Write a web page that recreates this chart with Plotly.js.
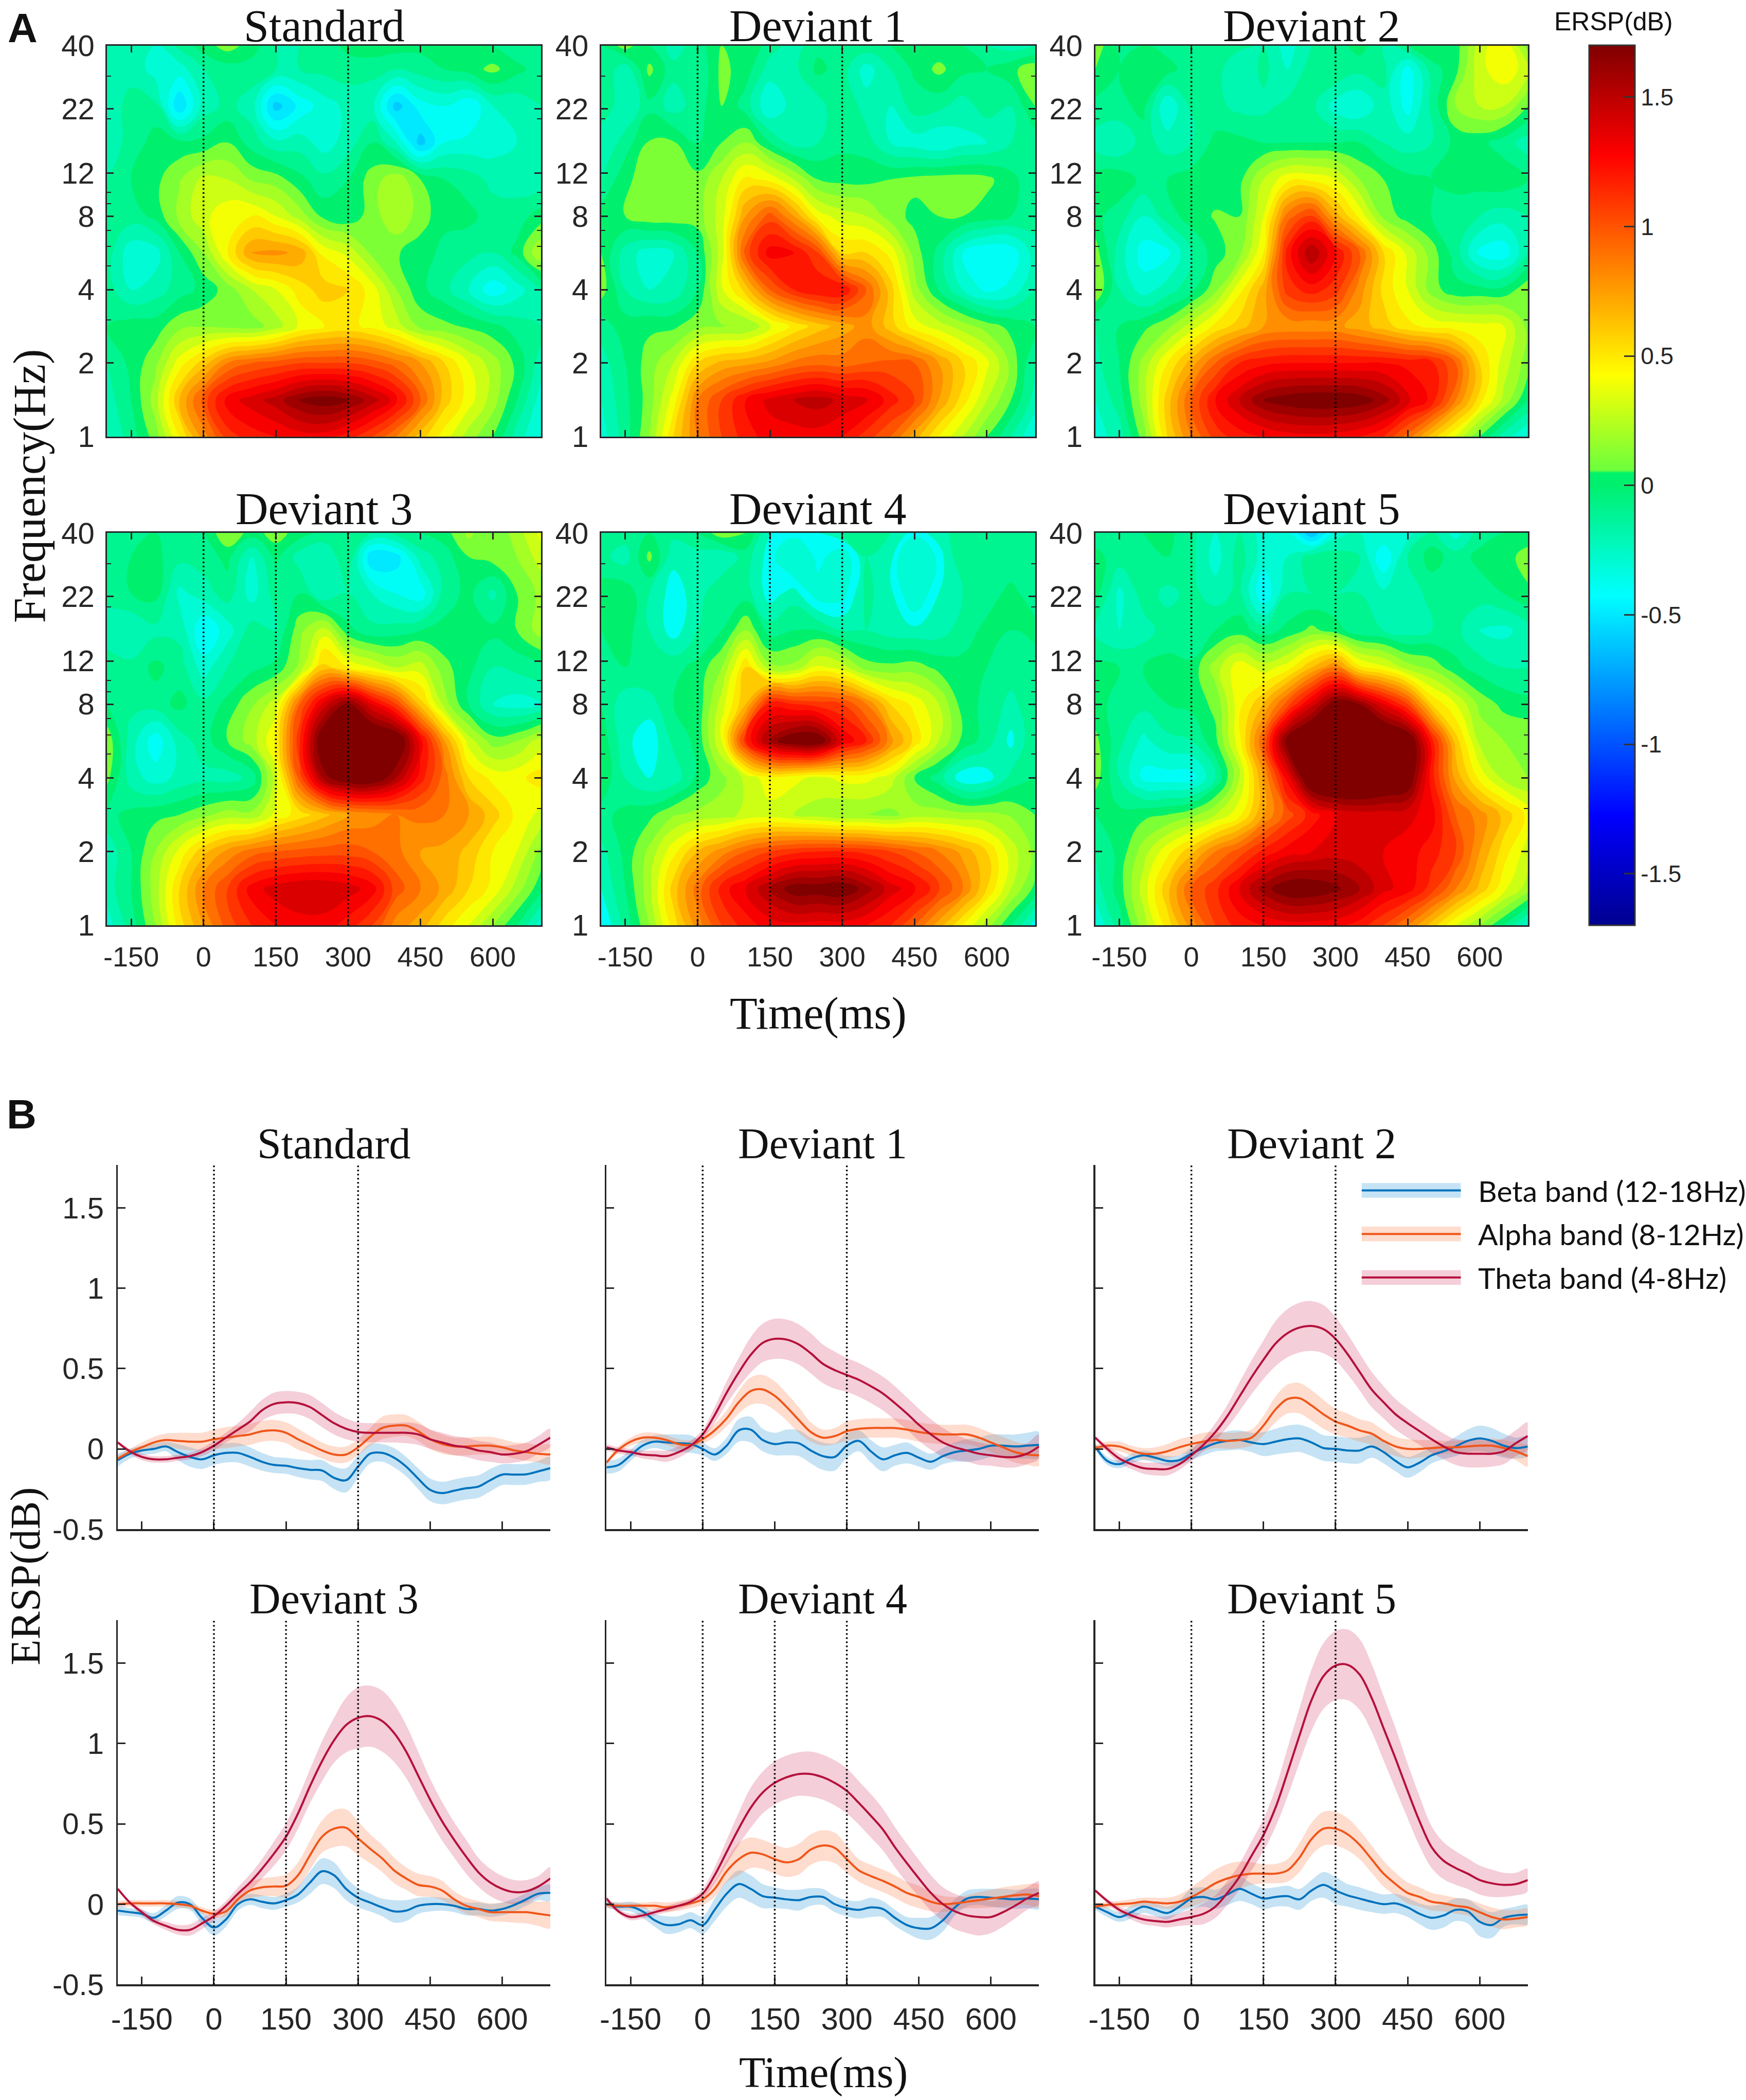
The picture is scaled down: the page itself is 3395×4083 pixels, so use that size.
<!DOCTYPE html>
<html>
<head>
<meta charset="utf-8">
<script src="https://cdn.plot.ly/plotly-3.0.1.min.js"></script>
<style>html,body{margin:0;padding:0;background:#fff}</style>
</head>
<body>
<div id="chart"></div>
<script>
// time-frequency grid, rows run from low to high frequency
const tfTimes = [-200,-150,-100,-50,0,50,100,150,200,250,300,350,400,450,500,550,600,650,700];
const tfFreqs = [1,1.41,2,2.83,4,5.66,8,11.3,16,22.6,32,40];

const ersp_standard = [
[-.25,-.1,.1,.45,.8,1.1,1.2,1.25,1.3,1.3,1.2,1.05,.85,.6,.4,.2,.05,-.2,-.35],
[-.2,-.05,.2,.65,1.0,1.3,1.4,1.5,1.65,1.72,1.65,1.5,1.3,.95,.6,.4,.2,-.05,-.3],
[-.15,-.02,.12,.4,.6,.85,.95,1.0,1.05,1.05,1.05,1.0,.9,.75,.55,.35,.2,.02,-.2],
[-.05,0,0,.12,.14,.12,.1,.2,.37,.45,.48,.42,.3,.12,.08,.03,-.02,-.1,-.15],
[-.1,-.25,-.2,-.1,-.02,.1,.25,.35,.5,.6,.55,.4,.15,-.02,-.12,-.25,-.42,-.3,-.15],
[-.1,-.32,-.3,-.05,.15,.45,.75,.78,.72,.42,.32,.12,.06,0,-.08,-.12,-.15,-.02,.25],
[-.1,-.1,-.02,.18,.32,.42,.45,.35,.2,.02,-.02,.1,.24,.1,-.02,-.02,-.1,-.1,0],
[-.15,-.05,.02,.14,.28,.25,.14,.1,-.02,-.12,-.05,.1,.22,.05,-.05,-.1,-.18,-.2,-.22],
[-.2,-.12,0,-.02,-.02,.05,-.1,-.22,-.2,-.3,-.2,-.05,-.25,-.6,-.35,-.32,-.3,-.25,-.2],
[-.2,-.12,-.12,-.55,-.2,-.12,-.2,-.6,-.42,-.3,-.22,-.22,-.6,-.4,-.35,-.45,-.25,-.22,-.15],
[-.15,-.18,-.3,-.3,-.15,-.1,-.1,-.15,-.15,-.12,-.1,-.12,-.15,-.1,-.05,0,.08,-.02,-.1],
[-.15,-.15,-.25,-.12,0,.1,0,-.15,-.15,-.1,-.02,.02,0,-.02,0,-.02,-.05,-.12,-.15]
];
const ersp_deviant1 = [
[-.3,-.1,.15,.55,.85,1.05,1.2,1.3,1.3,1.3,1.25,1.1,.95,.7,.45,.25,.05,-.15,-.35],
[-.25,-.08,.1,.4,.85,1.05,1.25,1.38,1.45,1.5,1.42,1.38,1.2,1.05,.75,.5,.25,.05,-.2],
[-.2,-.05,.1,.25,.55,.68,.72,.78,.88,.92,.9,.95,.98,.95,.75,.55,.38,.12,-.15],
[-.1,0,.03,.03,.12,.14,.15,.33,.48,.6,.7,.8,.6,.4,.3,.2,.1,.02,-.05],
[.1,-.15,-.25,-.22,-.05,.33,.6,.95,1.15,1.25,1.25,.95,.6,.2,-.05,-.25,-.38,-.32,-.15],
[.05,-.2,-.3,-.25,-.05,.3,1.0,1.3,1.25,1.05,.55,.55,.42,.1,-.08,-.35,-.45,-.42,-.2],
[0,.05,.12,.12,.1,.3,.75,1.0,.75,.4,.3,.25,.1,.02,.05,.05,0,-.05,-.1],
[-.15,.02,.12,.12,.08,.25,.48,.42,.25,.05,.02,.02,.05,.08,.1,.1,.08,-.02,-.12],
[-.25,-.1,.06,.06,-.05,.05,.15,-.05,-.2,-.15,-.08,-.1,-.25,-.3,-.35,-.28,-.25,-.15,-.1],
[-.05,-.25,-.08,-.2,-.1,.05,-.1,-.35,-.2,-.2,-.05,-.2,-.25,-.1,-.12,-.2,-.1,-.15,.05],
[-.05,-.22,.08,-.12,-.15,.08,0,-.2,-.18,-.02,-.1,-.3,-.15,-.03,.08,-.02,-.05,.02,.12],
[-.05,.1,-.05,-.2,-.1,.05,.05,-.1,-.2,-.08,-.1,-.08,-.05,0,-.02,-.05,-.15,-.2,-.15]
];
const ersp_deviant2 = [
[-.3,-.2,.1,.55,.85,1.1,1.2,1.25,1.3,1.32,1.3,1.25,1.15,.9,.6,.35,.05,-.2,-.35],
[-.25,-.1,.2,.6,.95,1.25,1.45,1.65,1.72,1.75,1.75,1.72,1.6,1.38,1.22,.85,.5,.22,-.05],
[-.18,-.05,.18,.45,.7,.95,1.15,1.22,1.25,1.25,1.25,1.25,1.25,1.22,1.18,.95,.55,.3,.1],
[-.15,-.05,.02,.12,.3,.48,.6,.75,.78,.78,.78,.7,.6,.48,.42,.4,.38,.35,.12],
[.15,-.15,-.3,-.2,-.08,.12,.42,.7,1.1,1.2,1.1,.8,.52,.35,.1,-.02,-.02,-.02,.12],
[.1,-.2,-.4,-.38,-.15,0,.12,.45,1.2,1.55,1.25,.95,.55,.32,.1,-.1,-.38,-.42,-.15],
[-.02,-.1,-.25,-.1,0,.06,.05,.35,.9,1.08,.7,.42,.12,0,-.05,-.08,-.15,-.2,-.15],
[0,.02,-.08,-.05,0,0,.02,.25,.42,.42,.35,.15,.05,-.02,-.05,-.03,0,.02,-.05],
[-.2,-.25,-.1,-.2,-.15,-.02,-.02,-.05,-.05,-.05,-.05,-.05,-.15,-.2,-.15,-.02,-.02,-.1,-.2],
[-.08,-.08,-.02,-.35,-.12,-.12,-.18,-.18,-.12,-.12,-.3,-.35,-.18,-.4,-.12,.15,.25,.25,.05],
[.05,-.05,.05,0,-.12,-.1,-.25,-.12,-.25,-.1,-.05,-.12,-.12,-.4,-.1,.02,.32,.42,.3],
[.12,-.08,-.05,-.1,-.15,-.1,-.12,-.15,-.3,-.15,-.1,0,-.15,-.05,.05,0,.3,.45,.1]
];
const ersp_deviant3 = [
[-.3,-.1,.15,.5,.75,1.0,1.15,1.25,1.3,1.3,1.2,1.05,.8,.7,.5,.35,.15,-.05,-.3],
[-.2,-.05,.2,.55,.85,1.05,1.3,1.4,1.45,1.45,1.4,1.3,1.0,.85,.72,.55,.42,.2,-.02],
[-.22,-.05,.15,.38,.62,.78,.9,.95,.98,1.0,1.0,.95,.88,.75,.72,.62,.45,.35,.12],
[-.08,-.02,.02,.05,.12,.2,.18,.38,.5,.62,.75,.8,.85,.88,.85,.75,.6,.42,.32],
[.08,-.2,-.3,-.22,-.18,-.2,-.12,.3,1.0,1.6,1.8,1.8,1.55,1.2,.9,.55,.42,.42,.5],
[.12,-.2,-.42,-.2,-.1,.05,.2,.45,1.15,1.85,1.95,1.95,1.85,1.3,.75,.3,.1,.15,.3],
[-.05,-.12,-.1,-.02,-.12,-.02,.14,.3,.95,1.4,1.7,1.35,1.05,.6,.2,-.05,-.25,-.3,-.25],
[-.1,-.12,-.02,-.1,-.3,-.15,-.08,-.02,.18,.6,.45,.35,.25,.3,.08,-.02,-.15,-.12,-.08],
[-.2,-.25,-.18,-.18,-.45,-.3,-.1,-.15,.12,.3,-.02,-.12,-.1,-.05,-.02,-.02,-.02,.05,.2],
[-.12,-.05,-.02,-.28,-.2,-.1,-.3,-.1,-.05,-.25,-.15,-.25,-.35,-.42,-.1,-.02,-.18,.05,.18],
[-.1,-.05,-.02,-.12,-.1,-.02,-.25,-.02,-.2,-.25,-.05,-.55,-.5,-.2,-.1,.05,.1,.15,.3],
[-.15,-.08,-.05,-.08,-.05,.15,0,.1,0,-.08,-.05,-.15,-.1,-.05,0,.18,.05,.2,.38]
];
const ersp_deviant4 = [
[-.35,-.12,.15,.5,.8,1.05,1.2,1.3,1.32,1.3,1.3,1.25,1.15,.95,.7,.45,.2,-.05,-.3],
[-.25,-.05,.22,.6,.9,1.2,1.35,1.55,1.72,1.72,1.75,1.6,1.4,1.28,1.08,.85,.55,.25,.02],
[-.18,-.02,.18,.42,.65,.8,.95,1.05,1.12,1.15,1.15,1.12,1.05,.95,.85,.72,.55,.3,.12],
[-.08,-.02,.02,.14,.18,.2,.28,.3,.25,.2,.15,.15,.12,.2,.2,.18,.18,.14,.05],
[.02,-.15,-.25,-.22,-.02,.12,.28,.42,.38,.32,.38,.38,.3,.05,-.1,-.32,-.3,-.12,-.05],
[.02,-.22,-.32,-.12,-.02,.35,1.15,1.6,1.78,1.78,1.35,1.15,.8,.52,.25,.02,-.1,-.28,-.05],
[-.05,-.22,-.2,-.05,-.02,.3,.65,1.2,1.15,1.1,1.05,.85,.55,.42,.25,0,-.08,-.18,-.08],
[-.1,-.05,-.05,-.08,-.02,.15,.55,.18,.18,.38,.3,.1,.08,.1,.02,-.02,-.05,-.1,-.1],
[-.05,0,-.15,-.3,-.15,-.05,.15,-.1,-.05,-.05,-.15,-.15,-.2,-.22,-.2,-.1,-.02,-.05,-.02],
[0,.02,-.15,-.3,-.2,-.05,-.1,-.3,-.2,-.42,-.4,-.12,-.22,-.48,-.25,-.15,-.1,-.02,-.1],
[-.12,-.2,.08,-.22,-.2,-.25,-.1,-.3,-.55,-.3,-.45,-.15,-.2,-.65,-.3,-.05,-.05,-.12,-.1],
[-.15,-.1,-.05,-.12,-.05,.12,.05,-.25,-.3,-.25,-.15,-.1,-.15,-.3,-.2,-.08,-.05,-.05,-.05]
];
const ersp_deviant5 = [
[-.35,-.1,.2,.5,.8,1.05,1.2,1.25,1.3,1.3,1.28,1.2,1.05,.85,.6,.35,.15,-.05,-.3],
[-.2,0,.3,.62,.95,1.12,1.35,1.6,1.75,1.75,1.68,1.55,1.38,1.3,1.1,.85,.62,.38,.2],
[-.15,-.02,.2,.42,.62,.85,1.0,1.18,1.3,1.35,1.4,1.38,1.35,1.3,1.2,1.05,.75,.5,.3],
[-.05,-.02,.02,.05,.12,.25,.42,.75,1.0,1.2,1.35,1.4,1.4,1.38,1.3,.95,.8,.62,.42],
[.1,-.15,-.38,-.4,-.4,-.15,.25,.75,1.3,1.9,2.0,2.0,1.9,1.8,1.2,.72,.42,.22,.15],
[.08,-.12,-.28,-.18,-.15,.02,.42,.95,1.75,2.0,2.1,2.1,2.0,1.85,1.2,.6,.22,.15,.15],
[-.02,-.08,-.12,-.05,-.02,.08,.42,.65,1.0,1.4,1.75,1.65,1.35,1.05,.55,.35,.12,.02,-.02],
[-.02,-.05,-.05,-.02,-.02,.2,.42,.3,.4,.65,.85,.48,.38,.2,.12,-.02,-.1,-.15,-.15],
[-.18,-.25,-.2,-.1,-.15,-.05,0,-.1,-.02,.08,0,-.12,-.15,-.2,-.15,-.12,-.25,-.28,-.2],
[0,-.28,-.1,-.18,-.12,-.2,-.12,-.45,-.15,-.15,-.15,-.15,-.22,-.2,-.12,-.05,-.1,-.05,.02],
[-.02,-.1,-.12,-.05,-.12,-.3,-.1,-.3,-.25,-.1,-.1,-.15,-.45,-.15,0,-.1,-.02,-.02,.12],
[-.1,-.12,-.05,-.02,-.12,-.25,-.15,-.3,-.3,-.65,-.3,-.25,-.25,-.3,-.12,-.3,-.1,-.05,-.05]
];

// band power curves, one value every 25 ms from -200 to 700
const bandTimes = [-200,-175,-150,-125,-100,-75,-50,-25,0,25,50,75,100,125,150,175,200,225,250,275,300,325,350,375,400,425,450,475,500,525,550,575,600,625,650,675,700];

const beta_standard = [-.07,-.03,-.01,0,.015,-.02,-.05,-.065,-.04,-.025,-.025,-.05,-.08,-.1,-.105,-.12,-.13,-.135,-.18,-.195,-.11,-.03,-.025,-.055,-.11,-.185,-.255,-.275,-.26,-.245,-.235,-.195,-.16,-.16,-.158,-.14,-.12];
const beta_standard_sem = [.04,.03,.03,.03,.03,.05,.06,.06,.06,.06,.06,.06,.055,.05,.05,.055,.06,.065,.07,.075,.07,.06,.055,.06,.06,.065,.07,.07,.07,.07,.07,.07,.065,.065,.065,.065,.07];
const alpha_standard = [-.06,-.02,.01,.04,.055,.05,.045,.045,.06,.07,.08,.09,.11,.115,.1,.06,.025,-.01,-.035,-.035,.01,.075,.13,.145,.145,.11,.06,.03,.015,.015,.02,.02,.01,-.01,-.02,-.03,-.035];
const alpha_standard_sem = [.02,.02,.03,.035,.04,.05,.055,.055,.06,.065,.065,.065,.065,.065,.065,.065,.055,.05,.05,.05,.05,.055,.07,.07,.065,.06,.06,.06,.055,.055,.055,.055,.05,.05,.055,.055,.06];
const theta_standard = [.04,-.015,-.05,-.065,-.065,-.055,-.045,-.02,.02,.07,.12,.17,.24,.28,.29,.285,.26,.21,.16,.125,.105,.1,.1,.1,.1,.09,.06,.04,.02,.01,-.01,-.02,-.035,-.03,-.015,.025,.07];
const theta_standard_sem = [.01,.015,.02,.02,.02,.02,.02,.025,.03,.03,.04,.06,.065,.07,.07,.07,.075,.075,.07,.065,.06,.06,.06,.06,.065,.065,.06,.06,.06,.06,.06,.06,.055,.055,.055,.055,.055];

const beta_deviant1 = [-.115,-.1,-.04,.02,.045,.04,.035,.03,0,-.035,.02,.115,.12,.055,.03,.04,.035,-.01,-.045,-.05,.02,.05,-.015,-.065,-.04,-.025,-.055,-.08,-.045,-.02,-.01,0,.02,.02,.015,.02,.025];
const beta_deviant1_sem = [.04,.04,.035,.035,.04,.05,.055,.055,.04,.04,.05,.07,.08,.07,.07,.08,.08,.08,.085,.085,.075,.065,.07,.075,.065,.065,.055,.05,.05,.06,.07,.07,.07,.07,.075,.08,.08];
const alpha_deviant1 = [-.085,-.005,.045,.07,.07,.055,.03,.025,.06,.115,.19,.29,.36,.37,.33,.26,.18,.105,.07,.08,.11,.125,.13,.13,.13,.12,.105,.095,.09,.09,.09,.07,.04,.01,-.02,-.035,-.04];
const alpha_deviant1_sem = [.01,.02,.025,.03,.03,.03,.03,.03,.03,.04,.05,.07,.085,.09,.09,.085,.08,.06,.05,.05,.06,.06,.06,.06,.06,.06,.06,.06,.06,.06,.06,.06,.06,.065,.065,.065,.065];
const theta_deviant1 = [.01,-.01,-.02,-.035,-.04,-.045,-.02,.02,.09,.21,.35,.475,.585,.66,.685,.68,.65,.595,.53,.49,.46,.43,.39,.345,.285,.22,.15,.09,.04,.01,-.01,-.03,-.04,-.05,-.05,-.03,.015];
const theta_deviant1_sem = [.02,.02,.02,.025,.03,.035,.035,.03,.03,.05,.07,.09,.11,.12,.125,.125,.125,.125,.12,.115,.105,.105,.105,.105,.105,.1,.1,.095,.09,.08,.07,.07,.065,.065,.065,.065,.075];

const beta_deviant2 = [.015,-.075,-.095,-.06,-.04,-.055,-.075,-.07,-.03,.005,.035,.05,.055,.04,.03,.045,.06,.065,.04,.005,0,-.01,-.01,.015,-.02,-.075,-.115,-.085,-.04,-.015,.015,.05,.065,.05,.02,.005,.015];
const beta_deviant2_sem = [.02,.025,.025,.03,.03,.03,.03,.03,.04,.045,.05,.06,.06,.06,.075,.08,.085,.085,.085,.08,.08,.08,.08,.07,.07,.065,.065,.06,.05,.05,.06,.07,.08,.08,.075,.065,.06];
const alpha_deviant2 = [.005,.02,.015,-.01,-.03,-.03,-.015,.01,.03,.045,.055,.05,.055,.07,.145,.245,.31,.315,.27,.215,.17,.145,.115,.095,.05,.015,0,0,.005,.01,.01,.015,.02,.02,.005,-.015,-.045];
const alpha_deviant2_sem = [.02,.025,.03,.03,.035,.04,.045,.05,.05,.055,.05,.05,.05,.05,.06,.08,.09,.095,.095,.09,.08,.075,.07,.07,.065,.06,.06,.055,.05,.04,.04,.04,.04,.045,.05,.055,.065];
const theta_deviant2 = [.07,0,-.06,-.095,-.12,-.125,-.125,-.095,-.04,.025,.105,.205,.325,.445,.555,.655,.72,.755,.765,.745,.685,.59,.48,.37,.29,.215,.16,.11,.06,.015,-.02,-.03,-.03,-.03,-.015,.035,.08];
const theta_deviant2_sem = [.01,.02,.03,.03,.035,.04,.04,.035,.035,.04,.055,.07,.09,.105,.12,.14,.15,.155,.155,.15,.135,.125,.115,.11,.1,.095,.09,.085,.085,.08,.08,.085,.085,.08,.08,.08,.085];

const beta_deviant3 = [-.04,-.05,-.06,-.085,-.04,.01,0,-.085,-.145,-.095,0,.03,.015,.005,.025,.06,.135,.205,.18,.095,.04,.01,-.02,-.045,-.04,-.01,0,0,-.01,-.03,-.03,-.04,-.03,-.005,.03,.065,.07];
const beta_deviant3_sem = [.03,.025,.025,.03,.035,.04,.035,.04,.05,.045,.04,.035,.04,.04,.04,.05,.07,.08,.08,.07,.06,.055,.055,.07,.065,.05,.045,.04,.04,.04,.04,.04,.04,.04,.04,.04,.05];
const alpha_deviant3 = [0,.005,.005,.005,.005,0,-.01,-.04,-.06,-.045,.03,.085,.105,.11,.115,.18,.305,.42,.47,.475,.41,.345,.285,.21,.16,.12,.11,.085,.03,-.01,-.03,-.05,-.05,-.05,-.05,-.06,-.07];
const alpha_deviant3_sem = [.02,.02,.02,.02,.02,.02,.02,.02,.025,.03,.04,.05,.055,.06,.07,.08,.09,.1,.115,.115,.105,.09,.085,.08,.07,.07,.065,.06,.05,.05,.05,.055,.06,.065,.07,.075,.08];
const theta_deviant3 = [.095,.01,-.05,-.105,-.135,-.16,-.16,-.12,-.075,-.01,.065,.135,.22,.315,.42,.565,.735,.89,1.02,1.115,1.16,1.17,1.14,1.065,.95,.8,.65,.515,.4,.295,.2,.135,.095,.075,.08,.11,.16];
const theta_deviant3_sem = [.01,.01,.02,.02,.025,.03,.035,.035,.03,.03,.04,.05,.06,.075,.085,.095,.105,.125,.14,.17,.19,.19,.19,.18,.165,.15,.13,.12,.11,.105,.09,.085,.08,.075,.07,.065,.07];

const beta_deviant4 = [0,-.015,-.015,-.045,-.1,-.13,-.125,-.1,-.13,-.035,.065,.125,.095,.05,.04,.03,.025,.045,.045,0,-.025,-.035,-.02,-.03,-.085,-.13,-.15,-.15,-.1,-.02,.035,.045,.04,.035,.03,.035,.03];
const beta_deviant4_sem = [.02,.025,.03,.04,.04,.055,.05,.05,.055,.07,.08,.085,.085,.075,.065,.06,.065,.055,.05,.05,.05,.055,.06,.05,.05,.05,.065,.07,.07,.05,.05,.05,.055,.06,.06,.06,.06];
const alpha_deviant4 = [-.005,-.01,-.01,-.01,-.01,-.02,-.01,.005,.03,.095,.205,.28,.32,.31,.28,.26,.28,.34,.365,.35,.28,.21,.175,.145,.11,.07,.045,.015,0,.005,.015,.025,.035,.045,.055,.06,.05];
const alpha_deviant4_sem = [.02,.02,.02,.02,.025,.03,.03,.03,.035,.05,.07,.1,.095,.09,.09,.09,.095,.095,.095,.095,.085,.07,.07,.07,.07,.07,.07,.06,.05,.04,.04,.05,.055,.06,.06,.065,.07];
const theta_deviant4 = [.035,-.045,-.08,-.07,-.05,-.03,-.01,.015,.065,.18,.325,.47,.6,.695,.755,.79,.81,.81,.79,.755,.705,.63,.55,.465,.355,.255,.16,.07,0,-.045,-.07,-.08,-.08,-.05,-.01,.035,.07];
const theta_deviant4_sem = [.015,.015,.02,.02,.02,.02,.02,.02,.03,.05,.075,.1,.125,.13,.135,.135,.135,.14,.14,.14,.14,.135,.135,.13,.125,.12,.115,.11,.105,.11,.11,.115,.1,.09,.08,.07,.07];

const beta_deviant5 = [-.015,-.05,-.08,-.05,-.015,-.035,-.055,-.015,.035,.045,.03,.06,.095,.065,.035,.045,.05,.03,.085,.12,.085,.055,.035,.015,0,.005,-.02,-.06,-.085,-.07,-.035,-.045,-.11,-.13,-.085,-.07,-.065];
const beta_deviant5_sem = [.02,.03,.03,.04,.04,.04,.04,.04,.06,.06,.06,.065,.075,.065,.065,.06,.065,.065,.065,.08,.085,.07,.07,.065,.06,.06,.06,.065,.075,.075,.07,.075,.09,.08,.055,.055,.06];
const alpha_deviant5 = [-.015,-.005,0,.005,.015,.01,.005,.015,.045,.085,.13,.16,.18,.19,.19,.19,.21,.29,.405,.47,.47,.435,.37,.28,.19,.125,.07,.045,.015,.005,-.01,-.02,-.05,-.08,-.095,-.09,-.08];
const alpha_deviant5_sem = [.02,.02,.02,.025,.025,.03,.035,.045,.06,.075,.085,.09,.085,.07,.06,.06,.07,.09,.1,.105,.105,.1,.09,.085,.08,.07,.065,.06,.055,.05,.05,.05,.055,.06,.06,.055,.05];
const theta_deviant5 = [.085,.02,-.035,-.07,-.095,-.105,-.11,-.095,-.08,-.06,-.015,.07,.17,.3,.43,.6,.82,1.05,1.27,1.42,1.485,1.49,1.43,1.285,1.095,.905,.705,.515,.355,.27,.225,.19,.15,.13,.12,.125,.15];
const theta_deviant5_sem = [.01,.015,.02,.025,.03,.03,.035,.04,.05,.065,.07,.075,.08,.09,.1,.12,.15,.17,.19,.205,.215,.22,.22,.21,.2,.19,.17,.155,.13,.115,.105,.095,.09,.085,.075,.07,.07];

const conditions = ["Standard","Deviant 1","Deviant 2","Deviant 3","Deviant 4","Deviant 5"];
const tfGrids = [ersp_standard,ersp_deviant1,ersp_deviant2,ersp_deviant3,ersp_deviant4,ersp_deviant5];
const betaCurves = [beta_standard,beta_deviant1,beta_deviant2,beta_deviant3,beta_deviant4,beta_deviant5];
const betaSem = [beta_standard_sem,beta_deviant1_sem,beta_deviant2_sem,beta_deviant3_sem,beta_deviant4_sem,beta_deviant5_sem];
const alphaCurves = [alpha_standard,alpha_deviant1,alpha_deviant2,alpha_deviant3,alpha_deviant4,alpha_deviant5];
const alphaSem = [alpha_standard_sem,alpha_deviant1_sem,alpha_deviant2_sem,alpha_deviant3_sem,alpha_deviant4_sem,alpha_deviant5_sem];
const thetaCurves = [theta_standard,theta_deviant1,theta_deviant2,theta_deviant3,theta_deviant4,theta_deviant5];
const thetaSem = [theta_standard_sem,theta_deviant1_sem,theta_deviant2_sem,theta_deviant3_sem,theta_deviant4_sem,theta_deviant5_sem];

const timeTicks = [-150,0,150,300,450,600];
const timeTickText = ["-150","0","150","300","450","600"];
const freqTicks = [1,2,4,8,12,22,40];
const freqMinorTicks = [3,5,6,7,9,10,20,30];
const erspTicks = [-0.5,0,0.5,1,1.5];
const erspTickText = ["-0.5","0","0.5","1","1.5"];
const colorTicks = [-1.5,-1,-0.5,0,0.5,1,1.5];
const colorTickText = ["-1.5","-1","-0.5","0","0.5","1","1.5"];
const legendNames = ["Beta band (12-18Hz)","Alpha band (8-12Hz)","Theta band (4-8Hz)"];

const W = 3395, H = 4083, S = W / 1304;
const px = v => v * S / W;          // picture units to paper x
const py = v => 1 - v * S / H;      // picture units to paper y
const INK = "#262626", SERIF = "Liberation Serif", SANS = "Liberation Sans";

const jet = [
  [0,"#00008f"],[0.125,"#0000ff"],[0.375,"#00ffff"],[0.5,"#00f06e"],[0.514,"#00f26a"],
  [0.517,"#6cff3c"],[0.625,"#ffff00"],[0.875,"#ff0000"],[1,"#800000"]
];
const bandColors = [
  {line:"#0072bd", fill:"rgba(40,150,215,0.27)"},
  {line:"#f0561a", fill:"rgba(250,130,80,0.28)"},
  {line:"#b5103c", fill:"rgba(210,50,90,0.24)"}
];

const tfCols = [[80,404],[449,773],[818,1141]];
const tfRows = [[34,326],[398,691]];
const lineCols = [[88,411],[453,776],[818,1141]];
const lineRows = [[870,1142],[1210,1482]];

let data = [], layout = {
  width: W, height: H, margin: {l:0,r:0,t:0,b:0}, showlegend: false,
  paper_bgcolor: "#fff", plot_bgcolor: "#fff", font: {family: SANS, color: INK},
  shapes: [], annotations: []
};

function label(text, x, y, size, family, extra) {
  layout.annotations.push(Object.assign({
    text: text, xref: "paper", yref: "paper", x: px(x), y: py(y),
    xanchor: "center", yanchor: "middle", showarrow: false,
    font: {family: family, size: size, color: "#111"}
  }, extra || {}));
}

function dottedLines(n, markers) {
  markers.forEach(t => layout.shapes.push({
    type: "line", xref: "x" + n, yref: "y" + n + " domain", x0: t, x1: t, y0: 0, y1: 1,
    line: {color: "#000", width: 3.5, dash: "3px,5px"}
  }));
}

for (let i = 0; i < 6; i++) {
  let c = i % 3, r = Math.floor(i / 3), n = i + 1;
  data.push({
    type: "contour", x: tfTimes, y: tfFreqs, z: tfGrids[i], xaxis: "x" + n, yaxis: "y" + n,
    autocontour: false, contours: {start: -1.65, end: 1.65, size: 0.1, coloring: "fill", showlines: false},
    line: {width: 0, smoothing: 1.3}, colorscale: jet, zmin: -1.7, zmax: 1.7, showscale: false, hoverinfo: "skip"
  });
  layout["xaxis" + n] = {
    domain: [px(tfCols[c][0]), px(tfCols[c][1])], anchor: "y" + n, range: [-200,700],
    tickmode: "array", tickvals: timeTicks, ticktext: timeTickText, showticklabels: r === 1,
    ticks: "inside", ticklen: 13, tickwidth: 3, tickcolor: INK, showline: true, linewidth: 3, linecolor: INK,
    mirror: "ticks", showgrid: false, zeroline: false, ticklabelstandoff: 12,
    tickfont: {family: SANS, size: 54, color: INK}
  };
  layout["yaxis" + n] = {
    domain: [py(tfRows[r][1]), py(tfRows[r][0])], anchor: "x" + n, type: "log", range: [0, Math.log10(40)],
    tickmode: "array", tickvals: freqTicks, ticktext: freqTicks.map(String),
    minor: {tickmode: "array", tickvals: freqMinorTicks, ticks: "inside", ticklen: 8, tickwidth: 2, tickcolor: INK, showgrid: false},
    ticks: "inside", ticklen: 13, tickwidth: 3, tickcolor: INK, showline: true, linewidth: 3, linecolor: INK,
    mirror: "ticks", showgrid: false, zeroline: false, ticklabelstandoff: 10,
    tickfont: {family: SANS, size: 58, color: INK}
  };
  dottedLines(n, r === 0 ? [0,300] : [0,150,300]);
  label(conditions[i], (tfCols[c][0] + tfCols[c][1]) / 2, r === 0 ? 19.5 : 380, 88, SERIF);
}

// a heatmap outside the visible range only carries the colour bar
data.push({
  type: "heatmap", x: [-9000,-8000], y: [1,2], z: [[-1.7,1.7],[-1.7,1.7]], xaxis: "x", yaxis: "y",
  colorscale: jet, zmin: -1.7, zmax: 1.7, hoverinfo: "skip",
  colorbar: {
    x: px(1187), xanchor: "left", y: py(362.5), yanchor: "middle", len: 657 * S / H, lenmode: "fraction",
    thickness: 34 * S, thicknessmode: "pixels", xpad: 0, ypad: 0, outlinewidth: 3, outlinecolor: "#333",
    tickmode: "array", tickvals: colorTicks, ticktext: colorTickText, ticks: "inside", ticklen: 22, tickwidth: 3,
    tickcolor: "#333", tickfont: {family: SANS, size: 46, color: INK}
  }
});

for (let i = 0; i < 6; i++) {
  let c = i % 3, r = Math.floor(i / 3), n = i + 7;
  [betaCurves, alphaCurves, thetaCurves].forEach((curves, k) => {
    let sem = [betaSem, alphaSem, thetaSem][k][i], mean = curves[i];
    let upper = mean.map((v, j) => v + sem[j]);
    let lower = mean.map((v, j) => v - sem[j]);
    data.push({
      type: "scatter", mode: "lines", xaxis: "x" + n, yaxis: "y" + n,
      x: bandTimes.concat(bandTimes.slice().reverse()), y: upper.concat(lower.reverse()),
      fill: "toself", fillcolor: bandColors[k].fill, line: {width: 0, shape: "spline", smoothing: 1}, hoverinfo: "skip"
    });
  });
  [betaCurves, alphaCurves, thetaCurves].forEach((curves, k) => {
    data.push({
      type: "scatter", mode: "lines", xaxis: "x" + n, yaxis: "y" + n, x: bandTimes, y: curves[i],
      name: legendNames[k], line: {color: bandColors[k].line, width: 4, shape: "spline", smoothing: 1}, hoverinfo: "skip"
    });
  });
  layout["xaxis" + n] = {
    domain: [px(lineCols[c][0]), px(lineCols[c][1])], anchor: "y" + n, range: [-200,700],
    tickmode: "array", tickvals: timeTicks, ticktext: timeTickText, showticklabels: r === 1,
    ticks: "inside", ticklen: 15, tickwidth: 3, tickcolor: INK, showline: true, linewidth: 3.5, linecolor: INK,
    showgrid: false, zeroline: false, ticklabelstandoff: 12, tickfont: {family: SANS, size: 60, color: INK}
  };
  layout["yaxis" + n] = {
    domain: [py(lineRows[r][1]), py(lineRows[r][0])], anchor: "x" + n, range: [-0.5,1.767],
    tickmode: "array", tickvals: erspTicks, ticktext: erspTickText, showticklabels: c === 0,
    ticks: "inside", ticklen: 15, tickwidth: 3, tickcolor: INK, showline: true, linewidth: 3.5, linecolor: INK,
    showgrid: false, zeroline: false, ticklabelstandoff: 12, tickfont: {family: SANS, size: 58, color: INK}
  };
  dottedLines(n, r === 0 ? [0,300] : [0,150,300]);
  label(conditions[i], (lineCols[c][0] + lineCols[c][1]) / 2, r === 0 ? 854 : 1194, 84, SERIF);
}

// legend drawn by hand so the swatch can show the shaded band
legendNames.forEach((name, k) => {
  let y = 889 + k * 32.5;
  layout.shapes.push({type: "rect", xref: "paper", yref: "paper", x0: px(1017), x1: px(1091), y0: py(y - 5.5), y1: py(y + 5.5),
    fillcolor: bandColors[k].fill, line: {width: 0}});
  layout.shapes.push({type: "line", xref: "paper", yref: "paper", x0: px(1017), x1: px(1091), y0: py(y), y1: py(y),
    line: {color: bandColors[k].line, width: 4}});
  label(name, 1103, y, 57, "Lato", {xanchor: "left"});
});

label("A", 17, 21, 80, SANS, {text: "<b>A</b>"});
label("B", 16, 832, 80, SANS, {text: "<b>B</b>"});
label("ERSP(dB)", 1205, 16, 50, SANS);
label("Frequency(Hz)", 22, 363, 88, SERIF, {textangle: -90});
label("Time(ms)", 611, 757, 88, SERIF);
label("ERSP(dB)", 19, 1177, 82, SERIF, {textangle: -90});
label("Time(ms)", 615, 1548, 84, SERIF);

Plotly.newPlot("chart", data, layout, {displayModeBar: false, staticPlot: true});
</script>
</body>
</html>
